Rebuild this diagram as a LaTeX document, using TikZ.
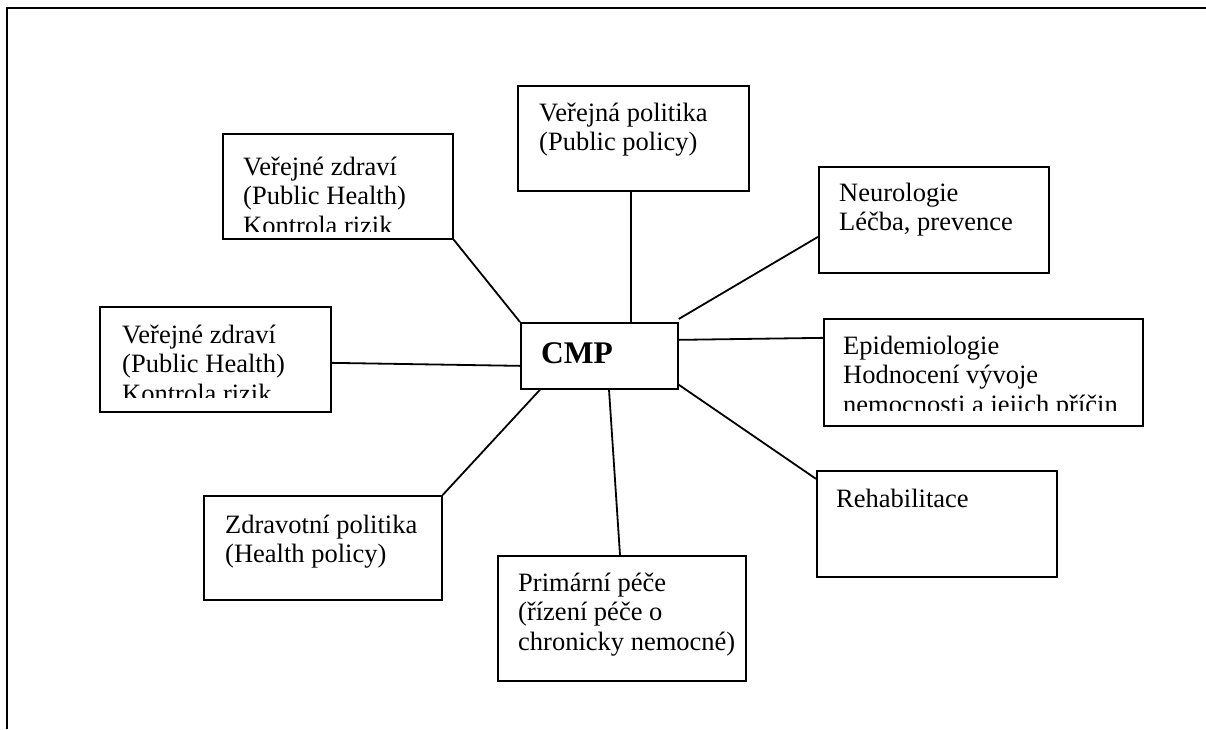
\documentclass[tikz,border=0pt]{standalone}
\usepackage{fontspec}
\setmainfont{Liberation Serif}
\begin{document}
\begin{tikzpicture}[x=1pt,y=-1pt,
  box/.style={draw,line width=1.7pt,inner sep=0pt,anchor=north west},
  txt/.style={inner sep=0pt,anchor=base west,font=\fontsize{26.5}{29.5}\selectfont},
  link/.style={line width=1.8pt},
  frame/.style={line width=2.8pt}]
\useasboundingbox (0,0) rectangle (1206,729);
% frame
\coordinate (fbl) at (7,729);
\coordinate (ftl) at (7,8);
\coordinate (ftr) at (1206,8);
\draw[frame] (fbl) -- (ftl) -- (ftr);
% boxes
\node[box,minimum width=231pt,minimum height=105pt] (pol) at (517,85) {};
\node[box,minimum width=230pt,minimum height=105pt] (vzA) at (222,133) {};
\node[box,minimum width=230pt,minimum height=106pt] (neu) at (818,166) {};
\node[box,minimum width=157pt,minimum height=66pt] (cmp) at (520,322) {};
\node[box,minimum width=231pt,minimum height=105pt] (vzB) at (99,306) {};
\node[box,minimum width=319pt,minimum height=107pt] (epi) at (823,318) {};
\node[box,minimum width=240pt,minimum height=106pt] (reh) at (816,470) {};
\node[box,minimum width=238pt,minimum height=104pt] (zdr) at (203,495) {};
\node[box,minimum width=248pt,minimum height=125pt] (pri) at (497,555) {};
% texts
\node[txt] (tpol) at (539,121) {\vtop{\hbox{Veřejná politika}\hbox{(Public policy)}}};
\begin{scope}
\clip (vzA.north west) rectangle (452,231);
\node[txt] (tvzA) at (243,175) {\vtop{\hbox{Veřejné zdraví}\hbox{(Public Health)}\hbox{Kontrola rizik}}};
\end{scope}
\node[txt] (tneu) at (839,201) {\vtop{\hbox{Neurologie}\hbox{Léčba, prevence}}};
\node[inner sep=0pt,anchor=base west,font=\fontsize{31.5}{34}\selectfont\bfseries] (tcmp) at (541,363) {CMP};
\begin{scope}
\clip (vzB.north west) rectangle (330,397);
\node[txt] (tvzB) at (122,343) {\vtop{\hbox{Veřejné zdraví}\hbox{(Public Health)}\hbox{Kontrola rizik}}};
\end{scope}
\begin{scope}
\clip (epi.north west) rectangle (1142,410);
\node[txt] (tepi) at (843,354) {\vtop{\hbox{Epidemiologie}\hbox{Hodnocení vývoje}\hbox{nemocnosti a jejich příčin}}};
\end{scope}
\node[txt] (treh) at (836,507) {Rehabilitace};
\node[txt] (tzdr) at (225,533) {\vtop{\hbox{Zdravotní politika}\hbox{(Health policy)}}};
\node[txt] (tpri) at (518,591) {\vtop{\hbox{Primární péče}\hbox{(řízení péče o}\hbox{chronicky nemocné)}}};
% connectors
\draw[link] (vzA.south east) -- (cmp.north west);
\draw[link] ([xshift=-2.5pt]pol.south) -- ([xshift=-2.5pt]pol.south |- cmp.north);
\draw[link] ([yshift=-17pt]neu.west) -- ([yshift=3pt]cmp.north east);
\draw[link] ([yshift=34.5pt]epi.west) -- ([yshift=16pt]cmp.east);
\draw[link] ([yshift=-3.5pt]vzB.east) -- ([yshift=-10pt]cmp.west);
\draw[link] ([yshift=5pt]cmp.south east) -- ([yshift=45pt]reh.west);
\draw[link] ([xshift=20pt]cmp.south west) -- (zdr.north east);
\draw[link] ([xshift=89pt]cmp.south west) -- ([xshift=123pt]pri.north west);
\end{tikzpicture}
\end{document}
